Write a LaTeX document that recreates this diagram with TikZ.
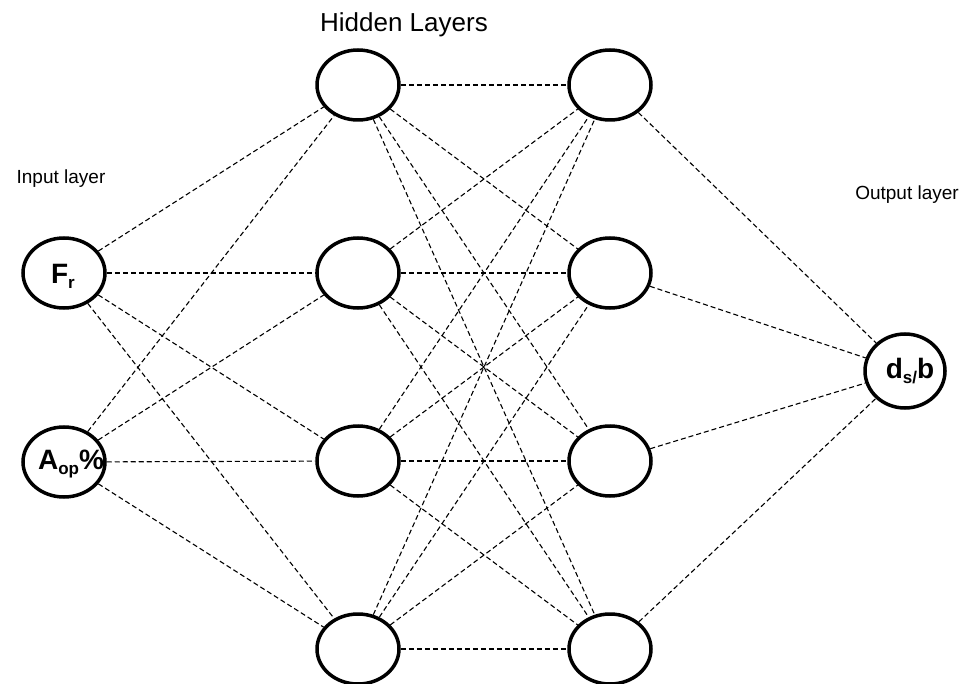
\documentclass[tikz,border=0pt]{standalone}
\usepackage{fontspec}
\setmainfont{Liberation Sans}
\usetikzlibrary{shapes.geometric}
\tikzset{
  neuron/.style={ellipse, draw=black, line width=3.5pt, fill=white, minimum width=82pt, minimum height=70pt, inner sep=0pt},
  outneuron/.style={neuron, minimum width=80pt, minimum height=74pt},
  link/.style={draw=black, line width=1.1pt, dash pattern=on 5pt off 3pt},
  caption/.style={font=\fontsize{19}{21}\selectfont, anchor=base, inner sep=0pt},
  biglabel/.style={font=\fontsize{28}{30}\selectfont\bfseries, inner sep=0pt}
}
\newcommand{\sbs}[1]{\raisebox{-0.18em}{\fontsize{17}{17}\selectfont #1}}
\begin{document}
\begin{tikzpicture}[x=1pt,y=-1pt]
\useasboundingbox (0,0) rectangle (963,684);
% layers
\node[neuron] (i1) at (64,273) {};
\node[neuron] (i2) at (64,462) {};
\foreach \k/\y in {1/85,2/273,3/461,4/649}{
  \node[neuron] (a\k) at (358,\y) {};
  \node[neuron] (b\k) at (610,\y) {};
}
\node[outneuron] (o) at (905,371) {};
% connections
\foreach \i in {i1,i2}{
  \foreach \k in {1,2,3,4}{ \draw[link] (\i) -- (a\k); }
}
\foreach \j in {1,2,3,4}{
  \foreach \k in {1,2,3,4}{ \draw[link] (a\j) -- (b\k); }
}
\foreach \k in {1,2,3,4}{ \draw[link] (b\k) -- (o); }
% labels inside
\node[biglabel] (lf) at (63,276) {F\sbs{r}};
\node[biglabel] (la) at (71,464) {A\sbs{op}\%};
\node[biglabel] (ld) at (910,371) {d\sbs{s/}b};
% captions
\node[caption, font=\fontsize{26}{28}\selectfont] (hl) at (404,32) {Hidden Layers};
\node[caption] (il) at (61,184) {Input layer};
\node[caption] (ol) at (907,200) {Output layer};
\end{tikzpicture}
\end{document}
